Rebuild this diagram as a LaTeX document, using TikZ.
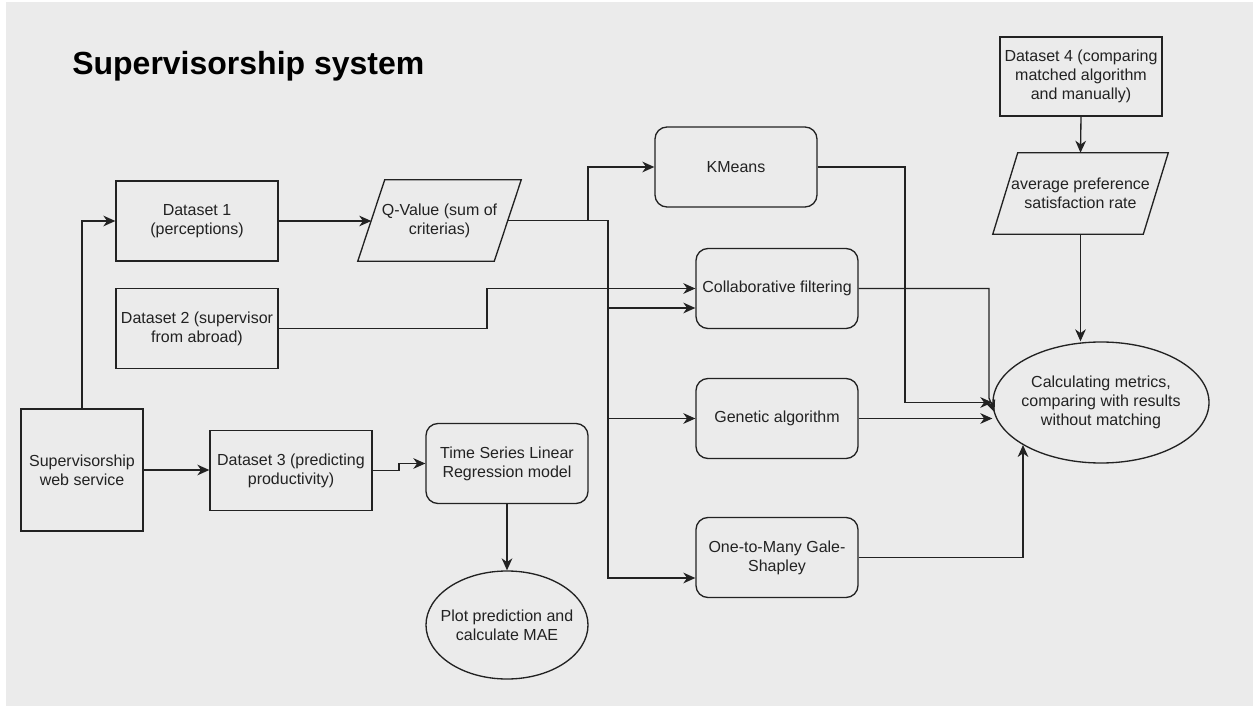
\documentclass[tikz,border=0pt]{standalone}
\usepackage{fontspec}
\setmainfont{Liberation Sans}
\usetikzlibrary{arrows.meta,shapes.geometric,calc}
\definecolor{bg}{HTML}{EBEBEB}
\definecolor{ink}{HTML}{222222}

\begin{document}
\begin{tikzpicture}[x=0.75pt,y=-0.75pt,
  base/.style={font=\fontsize{12}{14.4}\selectfont, text=ink, align=center, inner sep=0pt},
  box/.style={base, draw=ink, line width=1pt, rectangle, minimum width=121.5pt, minimum height=60pt},
  rbox/.style={box, rounded corners=9pt},
  para/.style={base, minimum height=60.75pt},
  oval/.style={base, draw=ink, line width=1pt, ellipse},
  wire/.style={draw=ink, line width=1pt},
  arr/.style={wire, -{Stealth[length=9pt,width=8pt,inset=2.8pt]}}
]
% canvas
\fill[white] (0,0) rectangle (1253,706);
\fill[bg] (6,2) rectangle (1253,706);
\useasboundingbox (0,0) rectangle (1253,706);

% title
\node[base, font=\fontsize{24}{28}\selectfont\bfseries, text=black, anchor=west] (title) at (72,66) {Supervisorship system};

% data sources
\node[box] (d1) at (197,221) {Dataset 1\\(perceptions)};
\node[box] (d2) at (197,328.5) {Dataset 2 (supervisor\\from abroad)};
\node[box, minimum width=91.5pt, minimum height=91.5pt] (web) at (82,470) {Supervisorship\\web service};
\node[box] (d3) at (291,470.5) {Dataset 3 (predicting\\productivity)};
\node[box, minimum height=59.25pt] (d4) at (1081,76.5) {Dataset 4 (comparing\\matched algorithm\\and manually)};

% Q-value parallelogram
\node[para, minimum width=102pt] (q) at (439.5,220.5) {Q-Value (sum of\\criterias)};
\draw[wire] ([xshift=10.125pt]q.north west) -- ([xshift=10.125pt]q.north east)
  -- ([xshift=-10.125pt]q.south east) -- ([xshift=-10.125pt]q.south west) -- cycle;

% average preference parallelogram
\node[para, minimum width=112.5pt] (avg) at (1080.5,193.5) {average preference\\satisfaction rate};
\draw[wire] ([xshift=9.375pt]avg.north west) -- ([xshift=9.375pt]avg.north east)
  -- ([xshift=-9.375pt]avg.south east) -- ([xshift=-9.375pt]avg.south west) -- cycle;

% models
\node[rbox] (ts) at (507,463.5) {Time Series Linear\\Regression model};
\node[oval, minimum width=121.5pt, minimum height=81pt, inner xsep=-12pt] (plot) at (507,625) {Plot prediction and\\calculate MAE};
\node[rbox] (km) at (736,167) {KMeans};
\node[rbox] (cf) at (777,288.5) {Collaborative filtering};
\node[rbox] (ga) at (777,418.5) {Genetic algorithm};
\node[rbox] (gs) at (777,557.5) {One-to-Many Gale-\\Shapley};

% evaluation
\node[oval, minimum width=162pt, minimum height=90.75pt, inner xsep=-4pt] (ell) at (1101,402.5) {Calculating metrics,\\comparing with results\\without matching};

% connectors
\coordinate (fork) at (608,220.5);
\draw[arr] (web.north) |- (d1.west);
\draw[arr] (web.east) -- (web.east -| d3.west);
\draw[arr] (d1.east) -- (d1.east -| q.west);
\draw[arr] (d2.east) -- (487,328.5) |- (cf.west);
\draw[arr] (d3.east) -- (399,470.5) |- (ts.west);
\draw[arr] (ts.south) -- (plot.north);
\draw[arr] (q.east) -- (588,220.5) |- (km.west);
\draw[wire] (q.east) -- (fork);
\draw[arr] (fork) |- ([yshift=-14.625pt]cf.west);
\draw[arr] (fork) |- (ga.west);
\draw[arr] (fork) |- ([yshift=-15.375pt]gs.west);
\draw[arr] (km.east) -- (905,167) |- (ell.west);
\draw[arr] (cf.east) -- (989,288.5) -- (989,398) -- (994.5,412);
\draw[arr] (ga.east) -- (ga.east -| ell.west);
\draw[arr] (gs.east) -- (1023,557.5) -- (1023,445);
\draw[arr] (d4.south) -- (avg.north);
\draw[arr] (avg.south) -- (avg.south |- ell.north);
\end{tikzpicture}
\end{document}
